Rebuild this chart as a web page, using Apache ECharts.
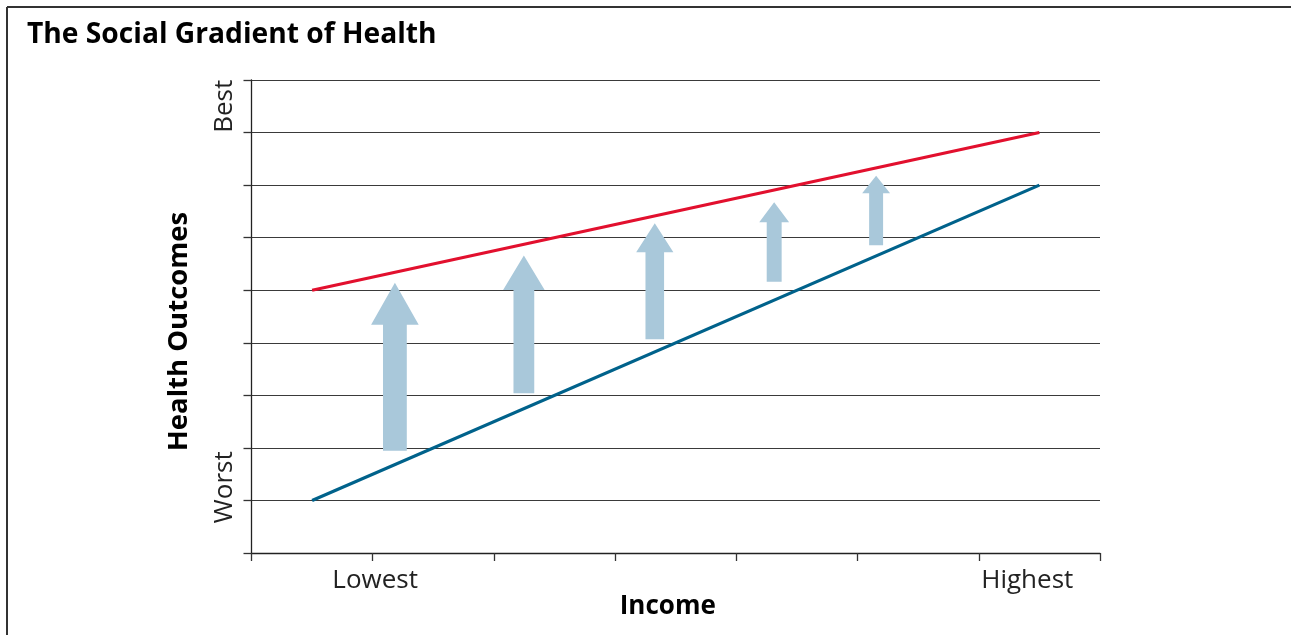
<!DOCTYPE html>
<html>
<head>
<meta charset="utf-8">
<script src="https://cdn.jsdelivr.net/npm/echarts@6/dist/echarts.min.js"></script>
<style>
html,body{margin:0;padding:0;background:#fff;}
#chart{width:1291px;height:635px;}
</style>
</head>
<body>
<div id="chart"></div>
<script>
// ---- Data ----
const titleText = 'The Social Gradient of Health';
const xAxisName = 'Income';
const yAxisName = 'Health Outcomes';
const xTickLabels = ['Lowest', 'Highest'];
const xTickLabelValues = [1.02, 6.4];
const yTickLabels = ['Best', 'Worst'];
const yTickLabelValues = [8.5, 1.25];
const lineX = [0.5, 6.5];
const upperLine = [5, 8];   // red line
const lowerLine = [1, 7];   // blue line
const arrowX = [1.183, 2.247, 3.327, 4.312, 5.153];
const arrowFrom = [1.946, 3.038, 4.066, 5.162, 5.854];
const arrowTo = [5.143, 5.66, 6.273, 6.672, 7.178];

const FONT = '"Open Sans", "Noto Sans", sans-serif';

const chart = echarts.init(document.getElementById('chart'));

function pair(xs, ys) { return xs.map((x, i) => [x, ys[i]]); }
const arrowData = arrowX.map((x, i) => [x, arrowFrom[i], arrowTo[i]]);

const option = {
  backgroundColor: '#fff',
  animation: false,
  title: {
    text: titleText,
    left: 22,
    top: 16,
    textStyle: { fontFamily: FONT, fontWeight: 'bold', fontSize: 28.2, color: '#000' }
  },
  graphic: [
    { type: 'line', shape: { x1: 7, y1: 7, x2: 1291, y2: 7 }, style: { stroke: '#333', lineWidth: 2 } },
    { type: 'line', shape: { x1: 7, y1: 7, x2: 7, y2: 635 }, style: { stroke: '#333', lineWidth: 2 } }
  ],
  grid: { left: 251.5, right: 191, top: 80, bottom: 82 },
  xAxis: {
    type: 'value', min: 0, max: 7, interval: 1,
    name: xAxisName, nameLocation: 'middle', nameGap: 41, nameMoveOverlap: false,
    nameTextStyle: { fontFamily: FONT, fontWeight: 'bold', fontSize: 26, color: '#000', padding: [0, 16, 0, 0] },
    axisLine: { show: true, lineStyle: { color: '#222', width: 1.3 } },
    axisTick: { show: true, length: 8, lineStyle: { color: '#333', width: 1.3 } },
    axisLabel: {
      show: true, margin: 15,
      customValues: xTickLabelValues,
      formatter: v => xTickLabels[xTickLabelValues.indexOf(v)] || '',
      fontFamily: FONT, fontSize: 26, color: '#222'
    },
    splitLine: { show: false }
  },
  yAxis: {
    type: 'value', min: 0, max: 9, interval: 1,
    name: yAxisName, nameLocation: 'middle', nameGap: 58, nameRotate: 90,
    nameTextStyle: { fontFamily: FONT, fontWeight: 'bold', fontSize: 27.5, color: '#000', padding: [0, 30, 0, 0] },
    axisLine: { show: true, lineStyle: { color: '#222', width: 1.3 } },
    axisTick: { show: true, length: 8, lineStyle: { color: '#333', width: 1.3 } },
    axisLabel: {
      show: true, margin: 14, rotate: 90,
      customValues: yTickLabelValues,
      formatter: v => yTickLabels[yTickLabelValues.indexOf(v)] || '',
      fontFamily: FONT, fontSize: 26, color: '#222'
    },
    splitLine: { show: true, lineStyle: { color: '#3a3a3a', width: 1.2 } }
  },
  series: [
    {
      type: 'custom',
      z: 2,
      data: arrowData,
      renderItem: function (params, api) {
        const b = api.coord([api.value(0), api.value(1)]);
        const t = api.coord([api.value(0), api.value(2)]);
        const cx = b[0];
        const len = b[1] - t[1];
        const sw = 7 + 0.1 * len;
        const hw = sw * 2;
        const hh = 0.25 * len;
        const pts = [
          [cx - sw / 2, b[1]], [cx - sw / 2, t[1] + hh], [cx - hw / 2, t[1] + hh],
          [cx, t[1]], [cx + hw / 2, t[1] + hh], [cx + sw / 2, t[1] + hh], [cx + sw / 2, b[1]]
        ];
        return { type: 'polygon', shape: { points: pts }, style: { fill: '#a9c8da' } };
      }
    },
    {
      type: 'line', z: 3, data: pair(lineX, upperLine), symbol: 'none',
      lineStyle: { color: '#e2102e', width: 3.2 }
    },
    {
      type: 'line', z: 3, data: pair(lineX, lowerLine), symbol: 'none',
      lineStyle: { color: '#00628b', width: 3.2 }
    }
  ]
};
chart.setOption(option);
</script>
</body>
</html>
